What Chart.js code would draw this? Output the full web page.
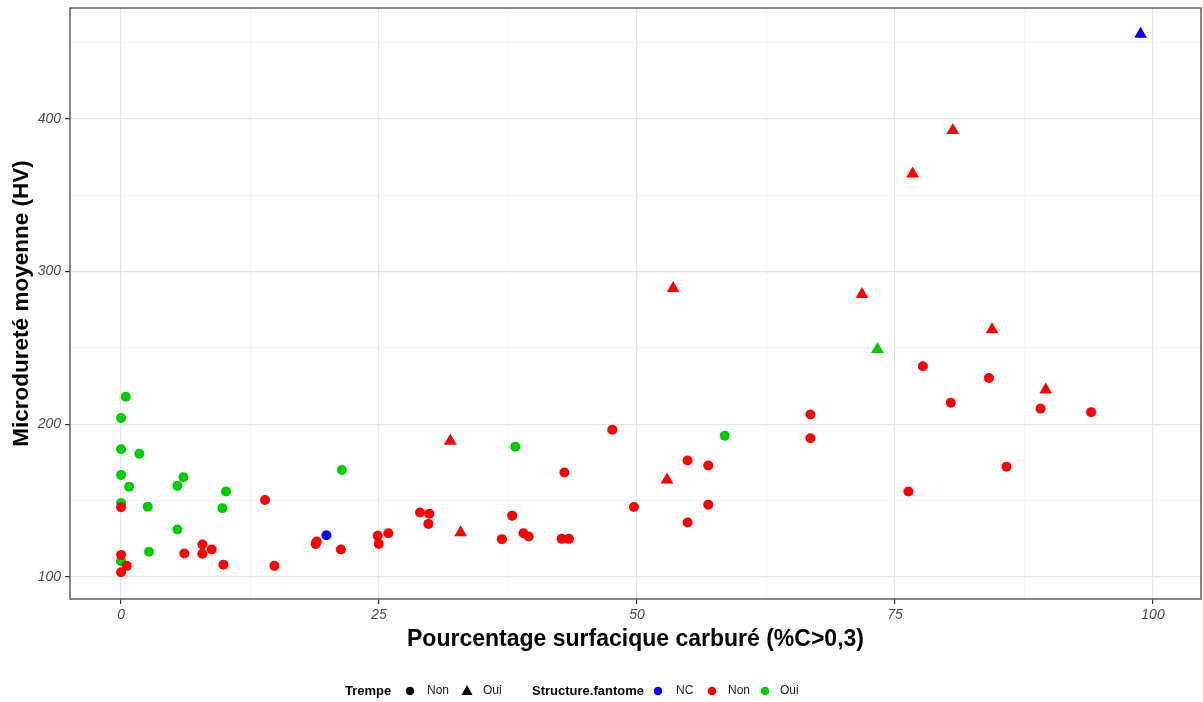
<!DOCTYPE html>
<html>
<head>
<meta charset="utf-8">
<script src="https://cdn.jsdelivr.net/npm/chart.js@4/dist/chart.umd.min.js"></script>
<style>
  html, body { margin: 0; padding: 0; background: #fff; }
  #wrap { width: 1203px; height: 702px; position: relative; }
</style>
</head>
<body>
<div id="wrap"><canvas id="chart" width="1203" height="702"></canvas></div>
<script>
// Trempe = Non (circles), grouped by Structure.fantome
const rondNon = [
  {x: 13.95, y: 150.4}, {x: 0, y: 145.6}, {x: 0, y: 114.4}, {x: 0.55, y: 107.2}, {x: 0, y: 103},
  {x: 6.13, y: 115.3}, {x: 7.88, y: 121.2}, {x: 7.88, y: 115.1}, {x: 8.78, y: 117.9}, {x: 9.92, y: 107.9},
  {x: 14.86, y: 107.2}, {x: 18.96, y: 123.1}, {x: 18.86, y: 121.6}, {x: 21.3, y: 117.9}, {x: 24.87, y: 126.9},
  {x: 24.97, y: 121.6}, {x: 25.9, y: 128.6}, {x: 28.97, y: 142.1}, {x: 29.88, y: 141.3}, {x: 29.78, y: 134.7},
  {x: 36.9, y: 124.7}, {x: 37.9, y: 140.1}, {x: 39.0, y: 128.6}, {x: 39.5, y: 126.4}, {x: 42.7, y: 124.9},
  {x: 43.4, y: 124.9}, {x: 42.96, y: 168.3}, {x: 47.6, y: 196.3}, {x: 49.7, y: 145.8}, {x: 54.9, y: 176.2},
  {x: 54.9, y: 135.6}, {x: 56.9, y: 172.9}, {x: 56.9, y: 147.3}, {x: 66.8, y: 206.3}, {x: 66.8, y: 190.8},
  {x: 77.7, y: 238}, {x: 84.1, y: 230.3}, {x: 80.4, y: 214}, {x: 89.1, y: 210.2}, {x: 94.0, y: 207.9},
  {x: 85.8, y: 172.2}, {x: 76.3, y: 155.9}
];
const rondOui = [
  {x: 0.45, y: 218}, {x: 0, y: 204}, {x: 0, y: 183.6}, {x: 1.77, y: 180.7}, {x: 0, y: 166.8},
  {x: 0.78, y: 159.1}, {x: 6.04, y: 165.3}, {x: 5.46, y: 159.6}, {x: 10.17, y: 155.9}, {x: 21.4, y: 170},
  {x: 0, y: 148.3}, {x: 2.58, y: 146}, {x: 9.82, y: 145}, {x: 5.46, y: 131}, {x: 2.71, y: 116.4},
  {x: 0, y: 110.3}, {x: 38.2, y: 185.3}, {x: 58.5, y: 192.5}
];
const rondNC = [{x: 19.9, y: 127.3}];

// Trempe = Oui (triangles)
const triangleNon = [
  {x: 31.9, y: 189}, {x: 32.9, y: 129}, {x: 52.9, y: 163.5}, {x: 53.5, y: 289}, {x: 71.8, y: 285},
  {x: 76.7, y: 364}, {x: 80.6, y: 392.5}, {x: 84.4, y: 262}, {x: 89.6, y: 222.5}
];
const triangleOui = [{x: 73.3, y: 249}];
const triangleNC = [{x: 98.8, y: 455.5}];

const xTicks = [0, 12.5, 25, 37.5, 50, 62.5, 75, 87.5, 100];
const yTicks = [100, 150, 200, 250, 300, 350, 400, 450];

const ROUGE = "#ff0000";
const VERT = "#00cc00";
const BLEU = "#0000ff";
const FONT = "'Liberation Sans', Arial, sans-serif";

function serie(label, data, color, style) {
  return {
    label: label,
    data: data,
    pointStyle: style,
    pointRadius: style === "triangle" ? 7.4 : 5,
    pointBackgroundColor: color,
    pointBorderWidth: 0,
    showLine: false,
  };
}

// panel border + bottom legend, ggplot style
const extras = {
  id: "extras",
  afterDatasetsDraw(chart) {
    const a = chart.chartArea;
    const ctx = chart.ctx;
    ctx.save();
    ctx.strokeStyle = "#555555";
    ctx.lineWidth = 1.4;
    ctx.strokeRect(a.left, a.top, a.right - a.left, a.bottom - a.top);
    ctx.restore();
  },
  afterDraw(chart) {
    const ctx = chart.ctx;
    const y = 691;
    ctx.save();
    ctx.textBaseline = "middle";
    ctx.fillStyle = "#000";
    ctx.font = "bold 13px " + FONT;
    ctx.fillText("Trempe", 345, y);
    ctx.fillText("Structure.fantome", 532, y);
    ctx.font = "12px " + FONT;
    ctx.fillStyle = "#1a1a1a";
    ctx.fillText("Non", 427, y);
    ctx.fillText("Oui", 483, y);
    ctx.fillText("NC", 676, y);
    ctx.fillText("Non", 728, y);
    ctx.fillText("Oui", 780, y);

    function dot(x, c) {
      ctx.fillStyle = c;
      ctx.beginPath();
      ctx.arc(x, y, 4.3, 0, Math.PI * 2);
      ctx.fill();
    }
    dot(410, "#000");
    dot(658, BLEU);
    dot(712, ROUGE);
    dot(765, VERT);
    ctx.fillStyle = "#000";
    ctx.beginPath();
    ctx.moveTo(467, y - 6);
    ctx.lineTo(472.5, y + 4);
    ctx.lineTo(461.5, y + 4);
    ctx.closePath();
    ctx.fill();
    ctx.restore();
  }
};

const ctx = document.getElementById("chart").getContext("2d");
new Chart(ctx, {
  type: "scatter",
  data: {
    datasets: [
      serie("Non / Non", rondNon, ROUGE, "circle"),
      serie("Non / Oui", rondOui, VERT, "circle"),
      serie("Non / NC", rondNC, BLEU, "circle"),
      serie("Oui / Non", triangleNon, ROUGE, "triangle"),
      serie("Oui / Oui", triangleOui, VERT, "triangle"),
      serie("Oui / NC", triangleNC, BLEU, "triangle"),
    ],
  },
  options: {
    responsive: false,
    animation: false,
    events: [],
    layout: { autoPadding: false, padding: { top: 8, right: 2, left: 0, bottom: 0 } },
    plugins: {
      legend: { display: false },
      tooltip: { enabled: false },
    },
    scales: {
      x: {
        type: "linear",
        min: -4.95,
        max: 104.65,
        afterBuildTicks: (scale) => {
          scale.ticks = xTicks.map((v) => ({ value: v }));
        },
        afterFit: (scale) => {
          scale.height = 103;
          scale.paddingLeft = 0;
          scale.paddingRight = 0;
        },
        ticks: {
          autoSkip: false,
          maxRotation: 0,
          padding: 3,
          color: "#4d4d4d",
          font: { family: FONT, size: 14, style: "italic" },
          callback: (v) => (v % 25 === 0 ? String(v) : ""),
        },
        grid: {
          color: (c) => (c.tick && c.tick.value % 25 === 0 ? "#e6e6e6" : "#f0f0f0"),
          lineWidth: (c) => (c.tick && c.tick.value % 25 === 0 ? 1.2 : 0.7),
          tickColor: (c) => (c.tick && c.tick.value % 25 === 0 ? "#333333" : "rgba(0,0,0,0)"),
          tickLength: 5,
        },
        border: { display: false },
        title: {
          display: true,
          text: "Pourcentage surfacique carburé (%C>0,3)",
          color: "#000",
          font: { family: FONT, size: 23, weight: "bold" },
          padding: { top: 0, bottom: 49 },
        },
      },
      y: {
        type: "linear",
        min: 85.5,
        max: 472.6,
        afterBuildTicks: (scale) => {
          scale.ticks = yTicks.map((v) => ({ value: v }));
        },
        afterFit: (scale) => {
          scale.width = 70;
          scale.paddingTop = 0;
          scale.paddingBottom = 0;
        },
        ticks: {
          autoSkip: false,
          padding: 4,
          color: "#4d4d4d",
          font: { family: FONT, size: 14, style: "italic" },
          callback: (v) => (v % 100 === 0 && v <= 400 ? String(v) : ""),
        },
        grid: {
          color: (c) => (c.tick && c.tick.value % 100 === 0 ? "#e6e6e6" : "#f0f0f0"),
          lineWidth: (c) => (c.tick && c.tick.value % 100 === 0 ? 1.2 : 0.7),
          tickColor: (c) => (c.tick && c.tick.value % 100 === 0 ? "#333333" : "rgba(0,0,0,0)"),
          tickLength: 5,
        },
        border: { display: false },
        title: {
          display: true,
          text: "Microdureté moyenne (HV)",
          color: "#000",
          font: { family: FONT, size: 22.5, weight: "bold" },
          padding: { top: 8, bottom: 0 },
        },
      },
    },
  },
  plugins: [extras],
});
</script>
</body>
</html>
